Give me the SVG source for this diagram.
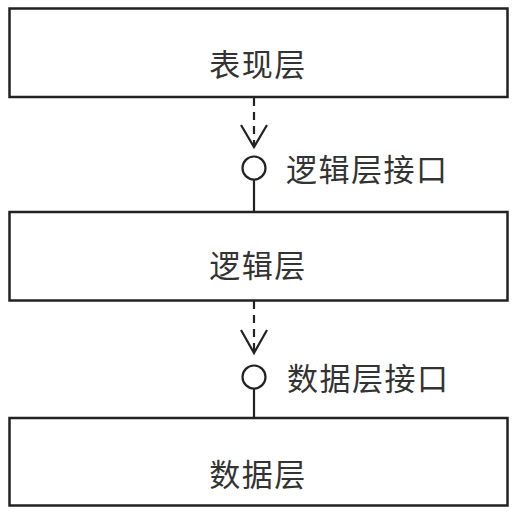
<svg xmlns="http://www.w3.org/2000/svg" width="515" height="515" viewBox="0 0 515 515">
<style>
.box{fill:#fff;stroke:#222;stroke-width:2.5}
.t{font-family:"Noto Sans CJK SC","Liberation Sans",sans-serif;font-size:31px;fill:#333;text-anchor:middle;dominant-baseline:central;letter-spacing:1.5px}
.lbl{font-family:"Noto Sans CJK SC","Liberation Sans",sans-serif;font-size:31px;fill:#333;dominant-baseline:central;letter-spacing:1.5px}
.dash{stroke:#222;stroke-width:2.2;stroke-dasharray:8,6;fill:none}
.solid{stroke:#222;stroke-width:2.2;fill:none}
.head{stroke:#222;stroke-width:2.2;fill:none;stroke-linejoin:miter}
.iface{fill:#fff;stroke:#222;stroke-width:2.2}
</style>
<rect width="515" height="515" fill="#fff"/>
<g id="presentation">
<rect class="box" x="9.5" y="8.5" width="498" height="88.5"/>
<text class="t" x="258" y="62">表现层</text>
</g>
<g id="logic">
<rect class="box" x="9.5" y="212" width="498" height="88.5"/>
<text class="t" x="258" y="263">逻辑层</text>
</g>
<g id="data">
<rect class="box" x="9.5" y="418" width="498" height="87.5"/>
<text class="t" x="258" y="472">数据层</text>
</g>
<g id="logic-interface">
<circle class="iface" cx="254" cy="168" r="11.5"/>
<text class="lbl" x="286" y="167">逻辑层接口</text>
</g>
<g id="data-interface">
<circle class="iface" cx="254" cy="377" r="11.5"/>
<text class="lbl" x="287" y="376">数据层接口</text>
</g>
<g id="connectors">
<line class="dash" x1="254" y1="98" x2="254" y2="146"/>
<polyline class="head" points="241,125 254,147 267,125"/>
<line class="solid" x1="254" y1="179.5" x2="254" y2="212"/>
<line class="dash" x1="254" y1="301" x2="254" y2="352"/>
<polyline class="head" points="241,330 254,353 267,330"/>
<line class="solid" x1="254" y1="388.5" x2="254" y2="418"/>
</g>
</svg>
